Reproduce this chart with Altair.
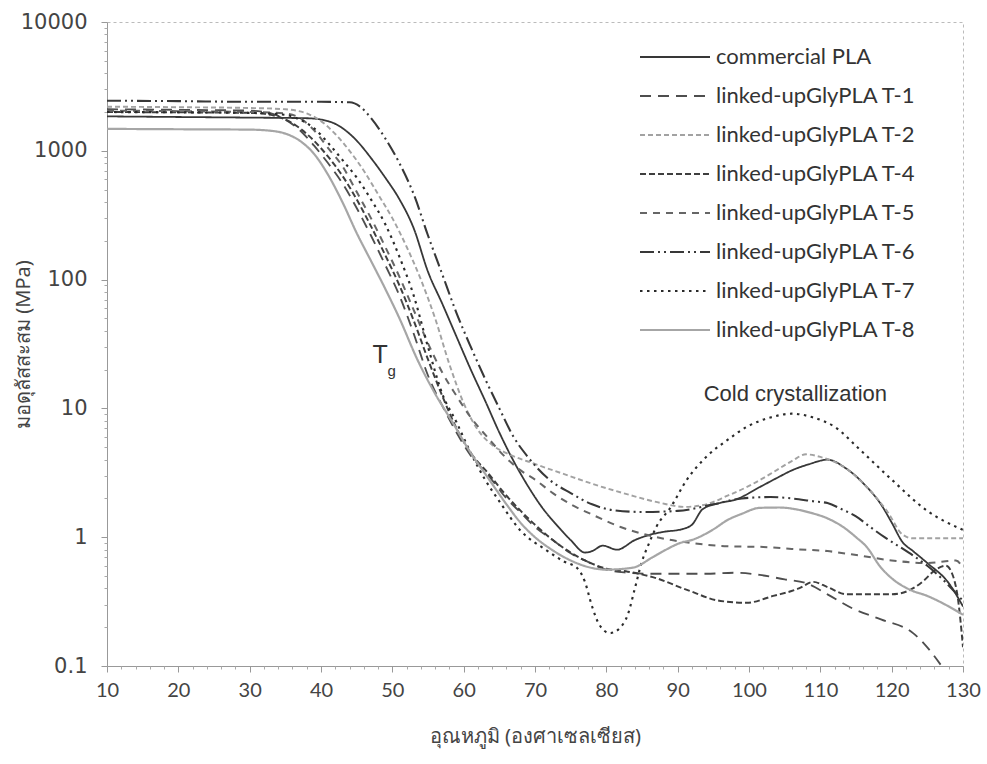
import altair as alt
import pandas as pd

SERIES = ["commercial PLA", "linked-upGlyPLA T-1", "linked-upGlyPLA T-2", "linked-upGlyPLA T-4",
          "linked-upGlyPLA T-5", "linked-upGlyPLA T-6", "linked-upGlyPLA T-7", "linked-upGlyPLA T-8"]

commercial_T = [10, 20, 30, 38, 41, 43, 45, 47, 49, 51, 53, 55, 57, 59, 61, 63, 65, 67, 69, 71, 73, 75, 77, 78,
                79.5, 81.5, 84, 86, 88, 90.5, 92, 93.5, 96, 98, 101.5, 104, 106, 108.5, 111, 113.5, 116.5, 118.5,
                120, 121.5, 123, 125, 128, 130]
commercial_E = [1850, 1830, 1810, 1790, 1700, 1500, 1200, 880, 620, 420, 250, 115, 65, 36, 20, 11.5, 6.5, 3.9,
                2.5, 1.7, 1.25, 0.95, 0.76, 0.78, 0.86, 0.8, 0.95, 1.04, 1.1, 1.15, 1.25, 1.65, 1.85, 1.95, 2.45,
                2.9, 3.3, 3.7, 4.0, 3.45, 2.46, 1.8, 1.3, 0.92, 0.78, 0.63, 0.44, 0.29]

t1_T = [10, 20, 30, 33, 35, 37, 39, 41, 43, 45, 47, 49, 51, 53, 55, 57, 59, 61, 63.3, 66, 68, 70, 72.5, 75, 77,
        80, 83, 86, 90, 94, 98, 101.5, 105, 108, 111, 114.5, 118.5, 123, 124.5, 127]
t1_E = [2100, 2080, 2050, 1950, 1750, 1450, 1100, 800, 560, 360, 220, 130, 75, 38, 18, 10.5, 6.5, 4.3, 3.1, 2.0,
        1.55, 1.2, 0.95, 0.75, 0.66, 0.56, 0.53, 0.52, 0.52, 0.52, 0.53, 0.51, 0.47, 0.44, 0.36, 0.28, 0.23,
        0.18, 0.15, 0.1]

t2_T = [10, 20, 30, 35, 38, 40, 42, 44, 46, 48, 50, 52, 54, 56, 58, 60, 62, 64, 66, 70, 74, 78, 83, 87.5, 91,
        94, 97, 100, 103, 106, 108, 110, 113.5, 116.5, 119.5, 121.5, 123, 126, 130]
t2_E = [2200, 2180, 2150, 2100, 1950, 1700, 1350, 1000, 700, 460, 300, 180, 100, 50, 22, 11, 6.8, 5.2, 4.5, 3.7,
        3.1, 2.6, 2.15, 1.85, 1.72, 1.8, 2.1, 2.5, 3.1, 3.9, 4.4, 4.2, 3.45, 2.46, 1.55, 1.05, 0.98, 0.98, 0.98]

t4_T = [10, 20, 30, 33, 35, 37, 39, 41, 43, 45, 47, 49, 51, 53, 55, 57, 59, 61, 63.3, 66, 68, 70, 72.5, 75, 77,
        80, 83, 86.5, 91.3, 96, 99.7, 103.4, 107, 109, 111, 113.7, 116.5, 120, 122.6, 124.5, 126, 127.6, 128.6,
        129.3, 130]
t4_E = [2000, 1990, 1970, 1900, 1750, 1500, 1200, 900, 640, 420, 260, 155, 90, 48, 24, 12.5, 7.0, 4.5, 3.2, 2.1,
        1.6, 1.25, 0.95, 0.76, 0.66, 0.57, 0.54, 0.49, 0.39, 0.32, 0.31, 0.35, 0.4, 0.45, 0.41, 0.36, 0.36, 0.36,
        0.39, 0.46, 0.55, 0.6, 0.5, 0.33, 0.14]

t5_T = [10, 20, 30, 35, 37, 39, 41, 43, 45, 47, 49, 51, 53, 55, 57, 59, 61, 63.3, 66, 68, 70, 72.5, 75, 78, 82,
        87, 92, 97, 102, 106, 111, 115.5, 120, 125, 129, 130]
t5_E = [2050, 2030, 2000, 1950, 1800, 1450, 1050, 760, 480, 300, 180, 105, 58, 32, 19, 12.5, 8.5, 6, 4.1, 3.3,
        2.8, 2.2, 1.8, 1.5, 1.2, 1.0, 0.9, 0.85, 0.84, 0.81, 0.78, 0.72, 0.66, 0.63, 0.66, 0.58]

t6_T = [10, 20, 30, 40, 44, 45.5, 47, 49, 51, 53, 55, 57, 59, 61, 63, 65, 67, 69, 72, 75, 78, 81, 85, 90, 95, 99,
        103, 106, 109, 111, 113, 115, 117, 119, 121, 123, 125, 127.5, 130]
t6_E = [2450, 2430, 2400, 2400, 2380, 2200, 1800, 1250, 800, 460, 220, 110, 55, 30, 17, 10, 6, 4.2, 2.8, 2.2, 1.8,
        1.62, 1.57, 1.6, 1.8, 2.0, 2.05, 2.0, 1.9, 1.84, 1.65, 1.45, 1.2, 1.0, 0.85, 0.72, 0.6, 0.45, 0.32]

t7_T = [10, 20, 30, 35, 37, 39, 41, 43, 45, 47, 49, 51, 53, 55, 57, 59, 61, 63, 65, 68, 71.5, 74, 76, 77, 78, 79,
        80.5, 82, 83, 84, 85, 86, 87, 89, 91.3, 94, 97, 99.7, 103, 106, 109, 112, 115.6, 120, 125, 130]
t7_E = [2000, 1990, 1970, 1900, 1750, 1500, 1150, 850, 620, 420, 270, 150, 75, 30, 13, 7.8, 4.5, 2.8, 1.9, 1.12,
        0.8, 0.65, 0.57, 0.45, 0.29, 0.21, 0.18, 0.2, 0.25, 0.4, 0.65, 0.9, 1.2, 1.7, 2.8, 4.2, 5.7, 7.2, 8.5,
        9.1, 8.5, 7.2, 4.75, 2.8, 1.6, 1.14]

t8_T = [10, 20, 30, 33, 35, 37, 39, 41, 43, 45, 47, 49, 51, 53.5, 56, 58.5, 61, 63.3, 66, 68, 70, 72.5, 75, 77.3,
        80, 83.7, 86.5, 88, 90.3, 92.2, 95, 97, 99, 101.5, 104.3, 106.5, 108.6, 111, 113.2, 115, 116.5, 118.4,
        120, 122.6, 125, 127.5, 130]
t8_E = [1480, 1470, 1460, 1430, 1360, 1200, 950, 650, 400, 230, 140, 85, 50, 24, 13, 7.7, 4.5, 2.95, 1.8, 1.29,
        1.0, 0.79, 0.66, 0.59, 0.56, 0.58, 0.7, 0.78, 0.9, 0.96, 1.15, 1.36, 1.52, 1.69, 1.7, 1.65, 1.55, 1.4,
        1.2, 1.0, 0.84, 0.59, 0.48, 0.39, 0.35, 0.3, 0.25]

X_TICKS = list(range(10, 131, 10))
X_MINOR = [v for v in range(10, 131, 2) if v % 10 != 0]
Y_TICKS = [0.1, 1, 10, 100, 1000, 10000]
Y_MINOR = [m * 10 ** k for k in range(-1, 4) for m in range(2, 10)]

annot_text = ["Cold crystallization"]
annot_T = [106.5]
annot_E = [12.9]

tg_text = ["T", "g"]
tg_T = [48.3, 49.9]
tg_E = [26, 19.5]
tg_size = [25, 15]

COLORS = ["#383838", "#4e4e4e", "#a2a2a2", "#3e3e3e", "#666666", "#383838", "#2a2a2a", "#a6a6a6"]
DASHES = [[1, 0], [11, 7], [5, 3], [6, 3], [7, 6], [14, 4, 2, 4, 2, 4], [2.5, 4.5], [1, 0]]
WIDTHS = [1.8, 2.2, 1.6, 2.2, 1.8, 2.0, 2.2, 2.0]

rows = []
for name, ts, es in zip(SERIES, [commercial_T, t1_T, t2_T, t4_T, t5_T, t6_T, t7_T, t8_T],
                        [commercial_E, t1_E, t2_E, t4_E, t5_E, t6_E, t7_E, t8_E]):
    for i, (t, e) in enumerate(zip(ts, es)):
        rows.append({"series": name, "T": t, "E": e, "order": i})
df = pd.DataFrame(rows)

# long horizontal stroke symbol (70 px) with a small nominal size so rows stay compact
legend = alt.Legend(title=None, orient="none", legendX=557, legendY=24, symbolType="M-5,0H5",
                    symbolSize=196, labelFont="Lato", labelFontSize=22, labelColor="#333333",
                    rowPadding=17, labelOffset=30, labelLimit=400)

xscale = alt.Scale(domain=[10, 130], nice=False, zero=False)
yscale = alt.Scale(type="log", domain=[0.1, 10000], nice=False)

lines = alt.Chart(df).mark_line(interpolate="monotone", clip=True).encode(
    x=alt.X("T:Q", scale=xscale,
            axis=alt.Axis(values=X_TICKS, orient="bottom", title="อุณหภูมิ (องศาเซลเซียส)",
                          labelFont="Lato", labelFontSize=20, labelColor="#444444", labelPadding=8,
                          labelFlush=False,
                          tickSize=6, tickColor="#999999", domainColor="#999999", grid=False,
                          titleFont="Noto Sans", titleFontSize=20, titleFontWeight="normal",
                          titleColor="#444444", titlePadding=26)),
    y=alt.Y("E:Q", scale=yscale,
            axis=alt.Axis(values=Y_TICKS, orient="left", format="~r", title="มอดุลัสสะสม (MPa)",
                          labelFont="DejaVu Sans", labelFontSize=21, labelColor="#444444", labelPadding=14,
                          tickSize=6, tickColor="#999999", domainColor="#999999", grid=False,
                          titleFont="Noto Sans", titleFontSize=20, titleFontWeight="normal",
                          titleColor="#444444", titleY=322, titleX=-84, titleBaseline="middle",
                          titleAlign="center")),
    color=alt.Color("series:N", scale=alt.Scale(domain=SERIES, range=COLORS), legend=legend),
    strokeDash=alt.StrokeDash("series:N", scale=alt.Scale(domain=SERIES, range=DASHES), legend=legend),
    strokeWidth=alt.StrokeWidth("series:N", scale=alt.Scale(domain=SERIES, range=WIDTHS), legend=legend),
    order="order:Q",
)

minor = alt.Chart(df).mark_point(opacity=0).encode(
    x=alt.X("T:Q", scale=xscale,
            axis=alt.Axis(values=X_MINOR, orient="bottom", labels=False, domain=False, grid=False,
                          tickSize=3, tickColor="#aaaaaa", title=None)),
    y=alt.Y("E:Q", scale=yscale,
            axis=alt.Axis(values=Y_MINOR, orient="left", labels=False, domain=False, grid=False,
                          tickSize=3, tickColor="#aaaaaa", title=None)),
)

annot_df = pd.DataFrame({"text": annot_text, "T": annot_T, "E": annot_E})
annot = alt.Chart(annot_df).mark_text(font="Liberation Sans", fontSize=22, color="#333333",
                                      align="center", baseline="middle").encode(
    x=alt.X("T:Q", scale=xscale, axis=None),
    y=alt.Y("E:Q", scale=yscale, axis=None),
    text="text:N",
)

tg_df = pd.DataFrame({"text": tg_text, "T": tg_T, "E": tg_E, "size": tg_size})
tg = alt.Chart(tg_df).mark_text(font="Liberation Sans", color="#333333", align="center",
                                baseline="middle").encode(
    x=alt.X("T:Q", scale=xscale, axis=None),
    y=alt.Y("E:Q", scale=yscale, axis=None),
    text="text:N",
    size=alt.Size("size:Q", scale=None, legend=None),
)

chart = alt.layer(lines, minor, annot, tg).resolve_axis(x="independent", y="independent").properties(
    width=856, height=644,
    autosize=alt.AutoSizeParams(type="none"),
    padding={"left": 107, "top": 22, "right": 24, "bottom": 98},
    background="white",
).configure_view(stroke="#bbbbbb", strokeDash=[3, 3], strokeWidth=1)

chart.save("out.html", embed_options={"renderer": "svg", "actions": False})
